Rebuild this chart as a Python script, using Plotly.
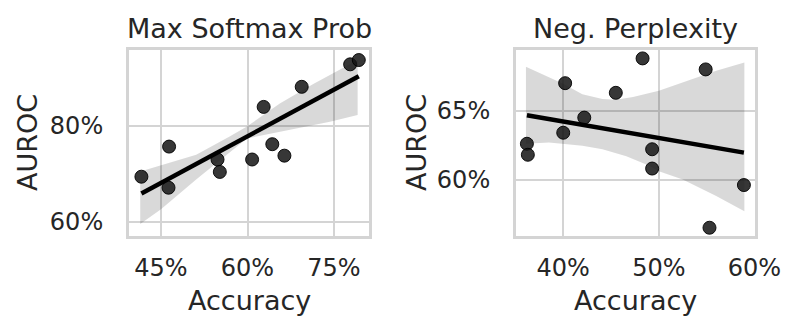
import numpy as np
import plotly.graph_objects as go

# Max Softmax Prob panel
msp_acc = [41.6, 46.4, 46.3, 54.8, 55.2, 60.8, 62.8, 64.3, 66.4, 69.4, 77.8, 79.3]
msp_auroc = [69.4, 75.7, 67.1, 73.0, 70.4, 73.0, 84.0, 76.2, 73.8, 88.2, 92.9, 93.8]
# confidence band edges
msp_hi_acc = [41.4, 45.3, 51.1, 56.9, 59.9, 65.6, 71.4, 79.1]
msp_hi_auroc = [70.5, 71.9, 74.0, 77.8, 79.9, 84.7, 88.8, 93.8]
msp_lo_acc = [41.4, 45.0, 51.1, 59.9, 65.6, 74.3, 79.1]
msp_lo_auroc = [59.5, 62.6, 68.8, 77.4, 78.8, 80.9, 82.3]

# Neg. Perplexity panel
ppl_acc = [36.2, 36.3, 40.2, 40.0, 42.2, 45.5, 48.3, 49.3, 49.3, 54.9, 55.3, 58.9]
ppl_auroc = [62.6, 61.8, 67.0, 63.4, 64.5, 66.3, 68.8, 62.2, 60.8, 68.0, 56.5, 59.6]
ppl_hi_acc = [36.1, 38.0, 40.0, 42.0, 44.1, 45.5, 47.3, 50.0, 52.5, 56.0, 58.95]
ppl_hi_auroc = [68.2, 67.6, 66.95, 66.2, 65.85, 65.8, 66.0, 66.45, 67.05, 67.9, 68.5]
ppl_lo_acc = [36.1, 38.5, 40.0, 42.0, 44.1, 46.6, 49.0, 50.0, 52.5, 56.0, 58.95]
ppl_lo_auroc = [62.6, 62.7, 62.6, 62.45, 62.2, 61.7, 61.0, 60.6, 60.0, 58.8, 57.7]

titles = ["Max Softmax Prob", "Neg. Perplexity"]
x_ticks = [[45, 60, 75], [40, 50, 60]]
y_ticks = [[60, 80], [60, 65]]

FONT = "DejaVu Sans"
TXT = "#262626"
GRID = "#d4d4d4"

W, H = 798, 334
panels = [
    dict(acc=msp_acc, auroc=msp_auroc, band=(msp_hi_acc, msp_hi_auroc, msp_lo_acc, msp_lo_auroc),
         box=(129, 369), xr=[39.45, 81.07], yr=[57.0, 95.9]),
    dict(acc=ppl_acc, auroc=ppl_auroc, band=(ppl_hi_acc, ppl_hi_auroc, ppl_lo_acc, ppl_lo_auroc),
         box=(516, 755), xr=[35.06, 60.06], yr=[55.9, 69.41]),
]
y_dom = [1 - 236 / H, 1 - 50 / H]

fig = go.Figure()
ann = []
for i, p in enumerate(panels):
    xa = "x" if i == 0 else "x2"
    ya = "y" if i == 0 else "y2"
    hx, hy, lx, ly = p["band"]
    fig.add_trace(go.Scatter(x=hx + lx[::-1], y=hy + ly[::-1], mode="lines",
                             line=dict(width=0), fill="toself",
                             fillcolor="rgba(0,0,0,0.15)",
                             xaxis=xa, yaxis=ya, showlegend=False, hoverinfo="skip"))
    fig.add_trace(go.Scatter(x=p["acc"], y=p["auroc"], mode="markers",
                             marker=dict(size=13, color="rgba(20,20,20,0.85)",
                                         line=dict(width=1, color="rgba(0,0,0,0.9)")),
                             xaxis=xa, yaxis=ya, showlegend=False))
    # least-squares fit over the data range
    x = np.asarray(p["acc"])
    b, a = np.polyfit(x, np.asarray(p["auroc"]), 1)
    xs = np.array([x.min(), x.max()])
    fig.add_trace(go.Scatter(x=xs, y=a + b * xs, mode="lines",
                             line=dict(color="black", width=4.5),
                             xaxis=xa, yaxis=ya, showlegend=False))

    x0, x1 = p["box"]
    dom = [x0 / W, x1 / W]
    axis_common = dict(showgrid=True, gridcolor=GRID, gridwidth=2, showline=True,
                       linecolor=GRID, linewidth=3, mirror=True, zeroline=False,
                       automargin=False, ticks="", tickmode="array",
                       tickfont=dict(family=FONT, size=24, color=TXT))
    fig.update_layout({
        ("xaxis" if i == 0 else "xaxis2"): dict(axis_common, domain=dom, range=p["xr"],
                                                 tickvals=x_ticks[i],
                                                 ticktext=[f"{v}%" for v in x_ticks[i]],
                                                 ticklabelstandoff=8, anchor=ya),
        ("yaxis" if i == 0 else "yaxis2"): dict(axis_common, domain=y_dom, range=p["yr"],
                                                 tickvals=y_ticks[i],
                                                 ticktext=[f"{v}%" for v in y_ticks[i]],
                                                 ticklabelstandoff=18, anchor=xa),
    })
    cx = (x0 + x1) / 2 / W
    ann.append(dict(text=titles[i], x=cx, y=1 - 28 / H, xref="paper", yref="paper",
                    xanchor="center", yanchor="middle", showarrow=False,
                    font=dict(family=FONT, size=27, color=TXT)))
    ann.append(dict(text="Accuracy", x=cx, y=1 - 300 / H, xref="paper", yref="paper",
                    xanchor="center", yanchor="middle", showarrow=False,
                    font=dict(family=FONT, size=27, color=TXT)))
    ann.append(dict(text="AUROC", x=(27 if i == 0 else 416) / W, y=(1 - 143 / H),
                    xref="paper", yref="paper", textangle=-90, xanchor="center",
                    yanchor="middle", showarrow=False,
                    font=dict(family=FONT, size=27, color=TXT)))

fig.update_layout(template="none", width=W, height=H, autosize=False,
                  margin=dict(l=0, r=0, t=0, b=0, pad=0),
                  paper_bgcolor="white", plot_bgcolor="white", annotations=ann)

fig.write_html("out.html", config={"displayModeBar": False, "responsive": False},
               post_script="document.body.style.margin='0';")
